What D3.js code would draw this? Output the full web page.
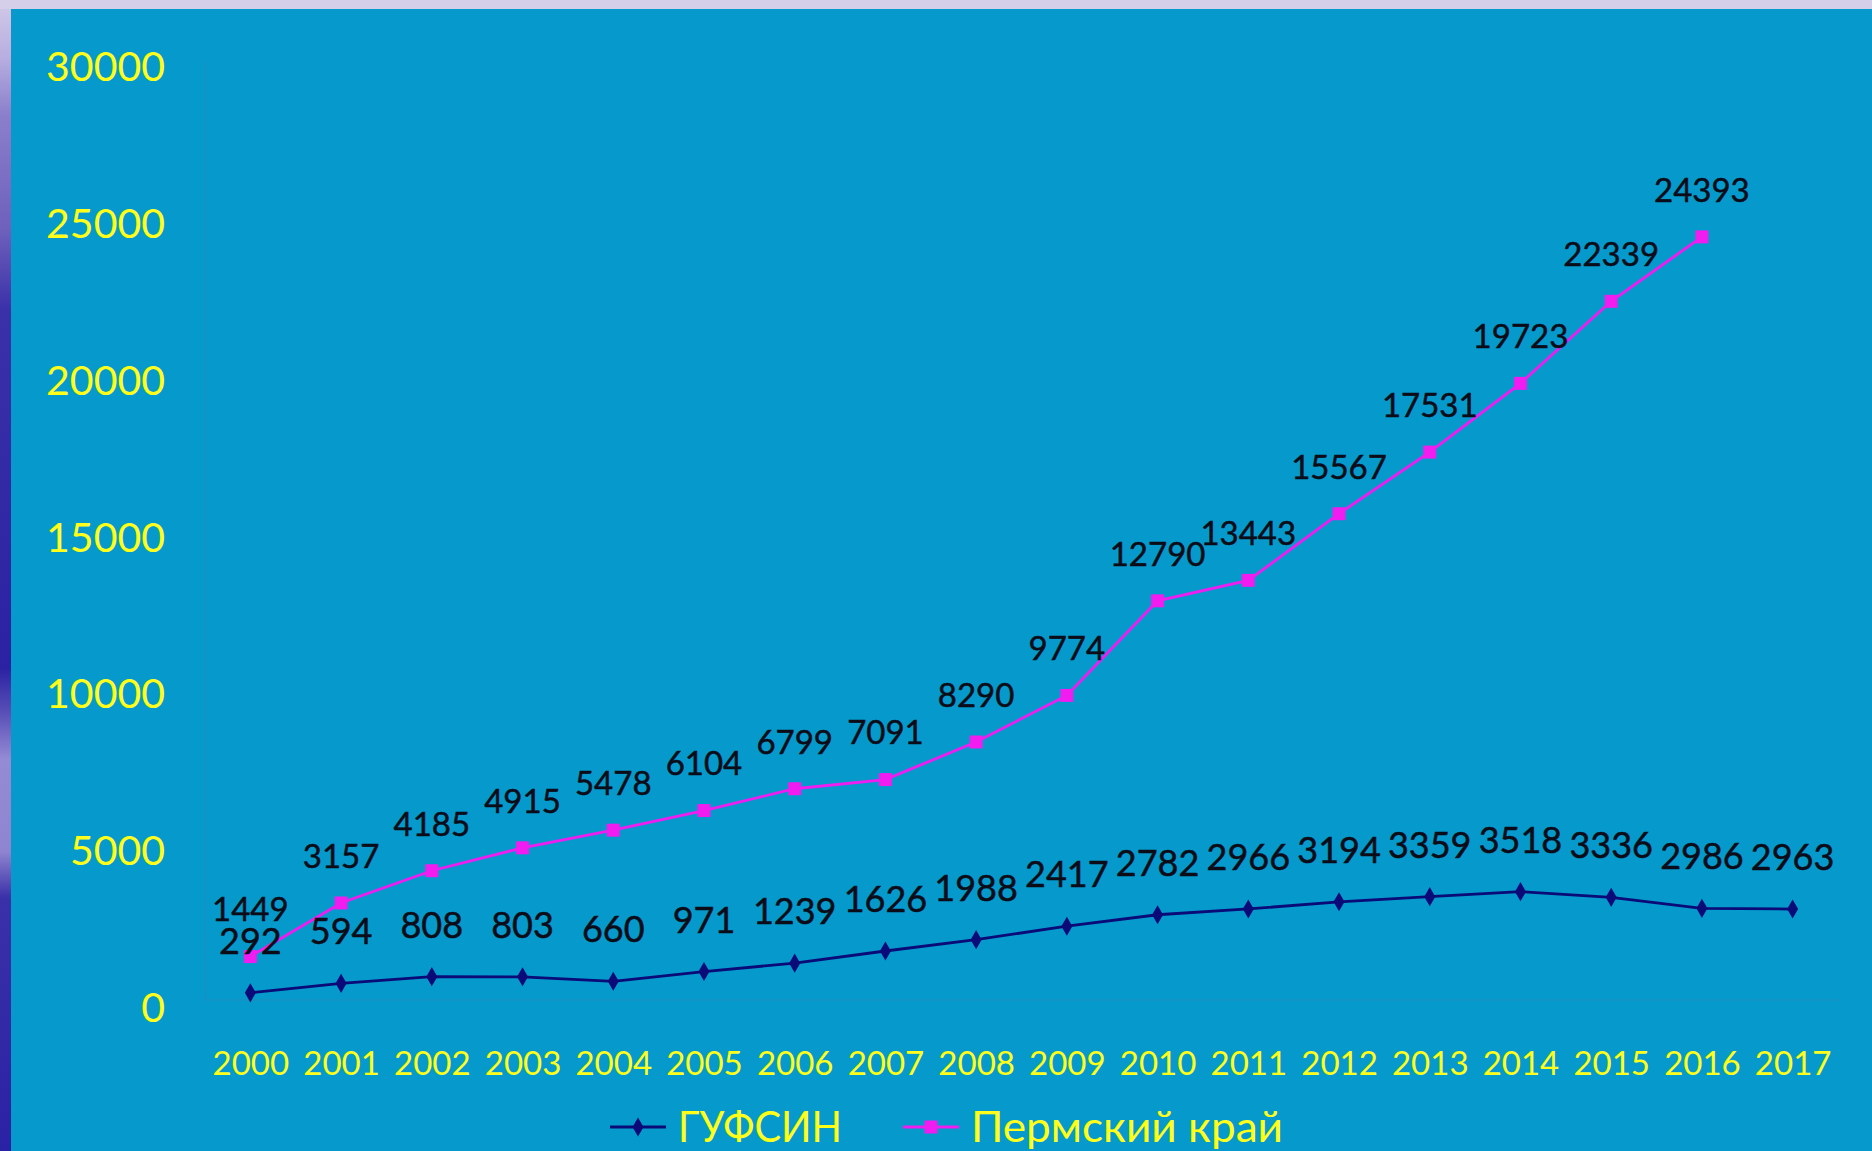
<!DOCTYPE html>
<html>
<head>
<meta charset="utf-8">
<script src="https://cdn.jsdelivr.net/npm/d3@7"></script>
<style>
  html, body { margin: 0; padding: 0; background: #059acb; overflow: hidden; }
  svg { display: block; }
</style>
</head>
<body>
<svg id="chart" width="1872" height="1151"></svg>
<script>
// Years on the x axis
const years = ["2000","2001","2002","2003","2004","2005","2006","2007","2008",
               "2009","2010","2011","2012","2013","2014","2015","2016","2017"];
// ГУФСИН series
const gufsin = [292, 594, 808, 803, 660, 971, 1239, 1626, 1988,
                2417, 2782, 2966, 3194, 3359, 3518, 3336, 2986, 2963];
// Пермский край series (no value for 2017)
const perm = [1449, 3157, 4185, 4915, 5478, 6104, 6799, 7091, 8290,
              9774, 12790, 13443, 15567, 17531, 19723, 22339, 24393];
// Y axis ticks
const yTicks = [0, 5000, 10000, 15000, 20000, 25000, 30000];
const seriesNames = ["ГУФСИН", "Пермский край"];

const W = 1872, H = 1151;
const svg = d3.select("#chart");
const FONT = "Lato, 'Open Sans', sans-serif";

// ---- background: slide frame ----
const defs = svg.append("defs");
const lg = defs.append("linearGradient").attr("id", "leftStrip")
  .attr("x1", 0).attr("y1", 0).attr("x2", 0).attr("y2", 1);
[[0, "#d2cae8"], [0.05, "#b8aee0"], [0.1, "#8b7fcc"], [0.2, "#6e60bc"], [0.27, "#3a30a8"],
 [0.58, "#2a22a2"], [0.62, "#5a50b8"], [0.66, "#958bd4"], [0.74, "#8e84d0"], [0.78, "#3a30a8"],
 [1, "#2a22a4"]].forEach(([o, c]) => lg.append("stop").attr("offset", o).attr("stop-color", c));

svg.append("rect").attr("x", 0).attr("y", 0).attr("width", W).attr("height", H).attr("fill", "#059acb");
svg.append("rect").attr("x", 0).attr("y", 0).attr("width", 11).attr("height", H).attr("fill", "url(#leftStrip)");
svg.append("rect").attr("x", 0).attr("y", 0).attr("width", W).attr("height", 9).attr("fill", "#d6cfea");

// ---- scales ----
const plot = { left: 205, right: 1838, top: 61, bottom: 1002 };
const x = d3.scalePoint().domain(years).range([plot.left, plot.right]).padding(0.5);
const y = d3.scaleLinear().domain([0, 30000]).range([plot.bottom, plot.top]);

// faint plot-area border
svg.append("path")
  .attr("d", `M${plot.left},${plot.top}V${plot.bottom - 2}H${plot.right}`)
  .attr("fill", "none").attr("stroke", "#3f7fb0").attr("stroke-opacity", 0.45).attr("stroke-width", 1);

// ---- axes ----
const yAxis = svg.append("g").attr("transform", `translate(165,0)`)
  .call(d3.axisLeft(y).tickValues(yTicks).tickSize(0).tickPadding(0).tickFormat(d3.format("d")));
yAxis.select(".domain").remove();
yAxis.selectAll("text")
  .attr("fill", "#ffff1a").attr("font-family", FONT).attr("font-size", 41)
  .attr("text-anchor", "end").attr("dy", "0.38em").attr("y", 4);

const xAxis = svg.append("g").attr("transform", `translate(0,1063)`)
  .call(d3.axisBottom(x).tickSize(0).tickPadding(0));
xAxis.select(".domain").remove();
xAxis.selectAll("text")
  .attr("fill", "#ffff1a").attr("font-family", FONT).attr("font-size", 33)
  .attr("dy", "0.36em").attr("y", 0);

// ---- lines ----
const permData = perm.map((v, i) => ({ year: years[i], v }));
const gufData = gufsin.map((v, i) => ({ year: years[i], v }));
const line = d3.line().x(d => x(d.year)).y(d => y(d.v));

const PERM_COL = "#f01cf0", GUF_COL = "#0a0a78";

svg.append("path").datum(gufData).attr("d", line)
  .attr("fill", "none").attr("stroke", GUF_COL).attr("stroke-width", 2.8);
svg.append("path").datum(permData).attr("d", line)
  .attr("fill", "none").attr("stroke", PERM_COL).attr("stroke-width", 2.8);

// markers
const diamond = d3.symbol().type(d3.symbolDiamond).size(105);
svg.append("g").selectAll("path").data(gufData).join("path")
  .attr("d", diamond)
  .attr("transform", d => `translate(${x(d.year)},${y(d.v)})`)
  .attr("fill", GUF_COL);
svg.append("g").selectAll("rect").data(permData).join("rect")
  .attr("x", d => x(d.year) - 6.5).attr("y", d => y(d.v) - 6.5)
  .attr("width", 13).attr("height", 13).attr("fill", PERM_COL);

// ---- data labels ----
const LABEL_COL = "#0c0c18";
svg.append("g").selectAll("text").data(gufData).join("text")
  .attr("x", d => x(d.year)).attr("y", d => y(d.v) - 52)
  .attr("dy", "0.36em").attr("text-anchor", "middle")
  .attr("font-family", FONT).attr("font-size", 36).attr("fill", LABEL_COL)
  .attr("stroke", LABEL_COL).attr("stroke-width", 0.5)
  .text(d => d.v);
svg.append("g").selectAll("text").data(permData).join("text")
  .attr("x", d => x(d.year)).attr("y", d => y(d.v) - 47)
  .attr("dy", "0.36em").attr("text-anchor", "middle")
  .attr("font-family", FONT).attr("font-size", 33).attr("fill", LABEL_COL)
  .attr("stroke", LABEL_COL).attr("stroke-width", 0.5)
  .text(d => d.v);

// ---- legend ----
const legendY = 1127;
const legend = svg.append("g");
const items = [
  { name: seriesNames[0], col: GUF_COL, x0: 610, type: "diamond", len: 164 },
  { name: seriesNames[1], col: PERM_COL, x0: 903, type: "square", len: 312 }
];
items.forEach(it => {
  const g = legend.append("g").attr("transform", `translate(${it.x0},${legendY})`);
  g.append("line").attr("x1", 0).attr("x2", 56).attr("y1", 0).attr("y2", 0)
    .attr("stroke", it.col).attr("stroke-width", 2.8);
  if (it.type === "diamond") {
    g.append("path").attr("d", diamond).attr("transform", "translate(28,0)").attr("fill", it.col);
  } else {
    g.append("rect").attr("x", 21.5).attr("y", -6.5).attr("width", 13).attr("height", 13).attr("fill", it.col);
  }
  g.append("text").attr("x", 68).attr("y", 0).attr("dy", "0.36em")
    .attr("font-family", FONT).attr("font-size", 42).attr("fill", "#ffff1a")
    .attr("textLength", it.len)
    .attr("lengthAdjust", "spacingAndGlyphs")
    .text(it.name);
});
</script>
</body>
</html>
